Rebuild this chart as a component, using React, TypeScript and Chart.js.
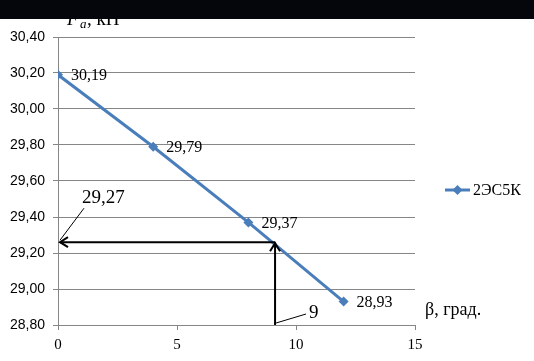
import React, { useEffect, useRef } from "react";
import { Chart, registerables } from "chart.js";

Chart.register(...registerables);

const betaValues = [0, 4, 8, 12];
const forceValues = [30.19, 29.79, 29.37, 28.93];
const pointLabels = ["30,19", "29,79", "29,37", "28,93"];
const seriesName = "2ЭС5К";
const readBeta = 9.12;
const readForce = 29.26;
const readBetaLabel = "9";
const readForceLabel = "29,27";
const xTitle = "β, град.";

const fmt = (v: number) => v.toFixed(2).replace(".", ",");

export default function App() {
  const ref = useRef<HTMLCanvasElement | null>(null);
  useEffect(() => {
    document.body.style.margin = "0";
    const canvas = ref.current!;
    const overlay = {
      id: "overlay",
      afterDatasetsDraw(chart: any) {
        const ctx = chart.ctx;
        const xs = chart.scales.x;
        const ys = chart.scales.y;
        ctx.save();
        // data labels
        ctx.fillStyle = "#000";
        ctx.font = "16px 'Liberation Serif'";
        ctx.textBaseline = "middle";
        ctx.textAlign = "left";
        betaValues.forEach((b, i) => {
          ctx.fillText(pointLabels[i], xs.getPixelForValue(b) + 13, ys.getPixelForValue(forceValues[i]) + 1);
        });
        // arrows
        const ax = xs.getPixelForValue(readBeta);
        const ay = ys.getPixelForValue(readForce);
        const x0 = xs.getPixelForValue(0);
        const yb = ys.getPixelForValue(28.8);
        ctx.strokeStyle = "#000";
        ctx.lineWidth = 2;
        ctx.beginPath();
        ctx.moveTo(ax, yb);
        ctx.lineTo(ax, ay);
        ctx.moveTo(ax, ay);
        ctx.lineTo(x0 + 2, ay);
        ctx.stroke();
        ctx.beginPath();
        ctx.moveTo(x0 + 10, ay - 5);
        ctx.lineTo(x0 + 2, ay);
        ctx.lineTo(x0 + 10, ay + 5);
        ctx.moveTo(ax - 5, ay + 9);
        ctx.lineTo(ax, ay + 1);
        ctx.lineTo(ax + 5, ay + 9);
        ctx.stroke();
        // leader lines
        ctx.lineWidth = 1;
        ctx.beginPath();
        ctx.moveTo(x0 + 2, ay - 2);
        ctx.lineTo(x0 + 26, ay - 34);
        ctx.moveTo(ax + 1, yb - 2);
        ctx.lineTo(ax + 31, yb - 11);
        ctx.stroke();
        ctx.font = "19px 'Liberation Serif'";
        ctx.textBaseline = "alphabetic";
        ctx.fillText(readForceLabel, x0 + 24, ay - 39);
        ctx.fillText(readBetaLabel, ax + 34, yb - 7);
        // x title
        ctx.font = "18px 'Liberation Serif'";
        ctx.fillText(xTitle, 425, 315);
        // legend
        const ly = 190;
        ctx.strokeStyle = "#4A7EBB";
        ctx.lineWidth = 3;
        ctx.beginPath();
        ctx.moveTo(445, ly);
        ctx.lineTo(470, ly);
        ctx.stroke();
        ctx.fillStyle = "#4A7EBB";
        ctx.beginPath();
        ctx.moveTo(457.5, ly - 5);
        ctx.lineTo(462.5, ly);
        ctx.lineTo(457.5, ly + 5);
        ctx.lineTo(452.5, ly);
        ctx.closePath();
        ctx.fill();
        ctx.fillStyle = "#000";
        ctx.font = "16px 'Liberation Serif'";
        ctx.textBaseline = "middle";
        ctx.fillText(seriesName, 473, ly + 1);
        // y title (partially hidden)
        ctx.textBaseline = "alphabetic";
        ctx.font = "italic 19px 'Liberation Serif'";
        ctx.fillText("F", 67, 25);
        ctx.font = "italic 13px 'Liberation Serif'";
        ctx.fillText("a", 80, 28);
        ctx.font = "19px 'Liberation Serif'";
        ctx.fillText(", кН", 87, 25);
        // black top bar
        ctx.fillStyle = "#05060B";
        ctx.fillRect(0, 0, chart.width, 19);
        ctx.restore();
      },
    };
    const chart = new Chart(canvas, {
      type: "line",
      data: {
        datasets: [
          {
            label: seriesName,
            data: betaValues.map((b, i) => ({ x: b, y: forceValues[i] })),
            borderColor: "#4A7EBB",
            backgroundColor: "#4A7EBB",
            borderWidth: 3,
            pointStyle: "rectRot",
            pointRadius: 5,
            pointBorderWidth: 0,
            tension: 0,
          },
        ],
      },
      options: {
        animation: false,
        responsive: false,
        layout: { padding: { left: 0, top: 37, right: 119, bottom: 0 } },
        plugins: { legend: { display: false }, tooltip: { enabled: false } },
        scales: {
          x: {
            type: "linear",
            min: 0,
            max: 15,
            ticks: { stepSize: 5, color: "#000", font: { family: "'Liberation Serif'", size: 15 }, padding: 6 },
            grid: { drawOnChartArea: false, color: "#868686", tickLength: 5 },
            border: { color: "#868686" },
            afterFit: (s: any) => { s.height = 36; },
          },
          y: {
            type: "linear",
            min: 28.8,
            max: 30.4,
            ticks: { stepSize: 0.2, color: "#000", font: { family: "'Liberation Sans'", size: 14 }, padding: 8, callback: (v: any) => fmt(Number(v)) },
            grid: { color: "#868686", tickLength: 5 },
            border: { color: "#868686" },
            afterFit: (s: any) => { s.width = 58; },
          },
        },
      },
      plugins: [overlay],
    });
    return () => chart.destroy();
  }, []);
  return (
    <div style={{ position: "absolute", left: 0, top: 0, width: 534, height: 361, background: "#fff" }}>
      <canvas ref={ref} width={534} height={361} />
    </div>
  );
}
